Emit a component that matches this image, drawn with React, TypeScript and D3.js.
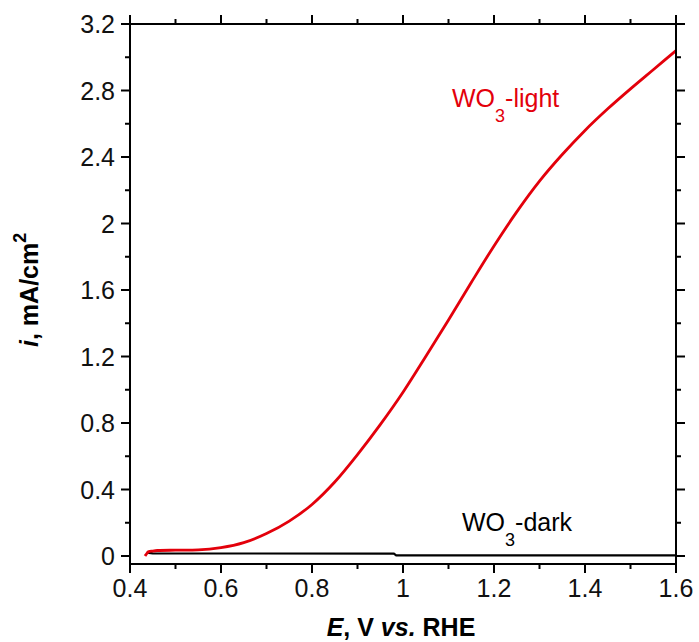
import React from "react";
import * as d3 from "d3";

const lightE = [0.433, 0.437, 0.44, 0.45, 0.46, 0.5, 0.55, 0.6, 0.65, 0.7, 0.75, 0.8, 0.85, 0.9, 0.95, 1.0, 1.05, 1.1, 1.15, 1.2, 1.25, 1.3, 1.35, 1.4, 1.45, 1.5, 1.55, 1.6];
const lightI = [0.0, 0.015, 0.025, 0.03, 0.033, 0.035, 0.037, 0.05, 0.08, 0.135, 0.21, 0.31, 0.445, 0.61, 0.79, 0.985, 1.2, 1.42, 1.645, 1.865, 2.07, 2.255, 2.415, 2.56, 2.69, 2.81, 2.925, 3.04];

const darkE = [0.437, 0.45, 0.98, 0.985, 1.6];
const darkI = [0.02, 0.016, 0.014, 0.004, 0.004];

const xMajor = [0.4, 0.6, 0.8, 1.0, 1.2, 1.4, 1.6];
const xMinor = [0.5, 0.7, 0.9, 1.1, 1.3, 1.5];
const yMajor = [0, 0.4, 0.8, 1.2, 1.6, 2.0, 2.4, 2.8, 3.2];
const yMinor = [0.2, 0.6, 1.0, 1.4, 1.8, 2.2, 2.6, 3.0];

const FONT = "'Liberation Sans', Arial, Helvetica, sans-serif";

export default function App() {
  const W = 699, H = 642;
  const x = d3.scaleLinear().domain([0.4, 1.6]).range([130, 676]);
  const y = d3.scaleLinear().domain([-0.0481, 3.2]).range([564, 24]);
  const x0 = x.range()[0], x1 = x.range()[1];
  const yb = y.range()[0], yt = y.range()[1];

  const lightPath = d3.line<[number, number]>().x(d => x(d[0])).y(d => y(d[1])).curve(d3.curveMonotoneX)(lightE.map((e, i) => [e, lightI[i]] as [number, number])) || "";
  const darkPath = d3.line<[number, number]>().x(d => x(d[0])).y(d => y(d[1]))(darkE.map((e, i) => [e, darkI[i]] as [number, number])) || "";

  const fmt = (v: number) => (Math.abs(v - Math.round(v)) < 1e-9 ? String(Math.round(v)) : v.toFixed(1));
  const MAJ = 9, MIN = 5, SW = 2;

  return (
    <svg width={W} height={H} style={{ position: "absolute", left: 0, top: 0 }} fontFamily={FONT}>
      <rect x={0} y={0} width={W} height={H} fill="white" />
      <path d={darkPath} fill="none" stroke="#000" strokeWidth={2.2} />
      <path d={lightPath} fill="none" stroke="#e3000b" strokeWidth={2.8} strokeLinejoin="round" />

      <rect x={x0} y={yt} width={x1 - x0} height={yb - yt} fill="none" stroke="#000" strokeWidth={SW} />

      {xMajor.map(v => (
        <g key={"xm" + v}>
          <line x1={x(v)} x2={x(v)} y1={yb} y2={yb + MAJ} stroke="#000" strokeWidth={SW} />
          <line x1={x(v)} x2={x(v)} y1={yt} y2={yt - MAJ} stroke="#000" strokeWidth={SW} />
          <text x={x(v)} y={597} textAnchor="middle" fontSize={25} fill="#111">{fmt(v)}</text>
        </g>
      ))}
      {xMinor.map(v => (
        <g key={"xn" + v}>
          <line x1={x(v)} x2={x(v)} y1={yb} y2={yb + MIN} stroke="#000" strokeWidth={SW} />
          <line x1={x(v)} x2={x(v)} y1={yt} y2={yt - MIN} stroke="#000" strokeWidth={SW} />
        </g>
      ))}
      {yMajor.map(v => (
        <g key={"ym" + v}>
          <line x1={x0} x2={x0 - MAJ} y1={y(v)} y2={y(v)} stroke="#000" strokeWidth={SW} />
          <line x1={x1} x2={x1 + MAJ} y1={y(v)} y2={y(v)} stroke="#000" strokeWidth={SW} />
          <text x={115} y={y(v) + 9} textAnchor="end" fontSize={25} fill="#111">{fmt(v)}</text>
        </g>
      ))}
      {yMinor.map(v => (
        <g key={"yn" + v}>
          <line x1={x0} x2={x0 - MIN} y1={y(v)} y2={y(v)} stroke="#000" strokeWidth={SW} />
          <line x1={x1} x2={x1 + MIN} y1={y(v)} y2={y(v)} stroke="#000" strokeWidth={SW} />
        </g>
      ))}

      <text x={452} y={107} fontSize={25} fill="#e3000b">WO<tspan fontSize={18} dy={15}>3</tspan><tspan dy={-15}>-light</tspan></text>
      <text x={462} y={531} fontSize={25} fill="#000">WO<tspan fontSize={18} dy={15}>3</tspan><tspan dy={-15}>-dark</tspan></text>

      <text x={401} y={636} textAnchor="middle" fontSize={25} fontWeight="bold" fill="#000">
        <tspan fontStyle="italic">E</tspan>, V <tspan fontStyle="italic">vs.</tspan> RHE
      </text>
      <text transform="translate(38,347) rotate(-90)" fontSize={25} fontWeight="bold" fill="#000">
        <tspan fontStyle="italic">i</tspan>, mA/cm<tspan fontSize={18} dy={-12}>2</tspan>
      </text>
    </svg>
  );
}
